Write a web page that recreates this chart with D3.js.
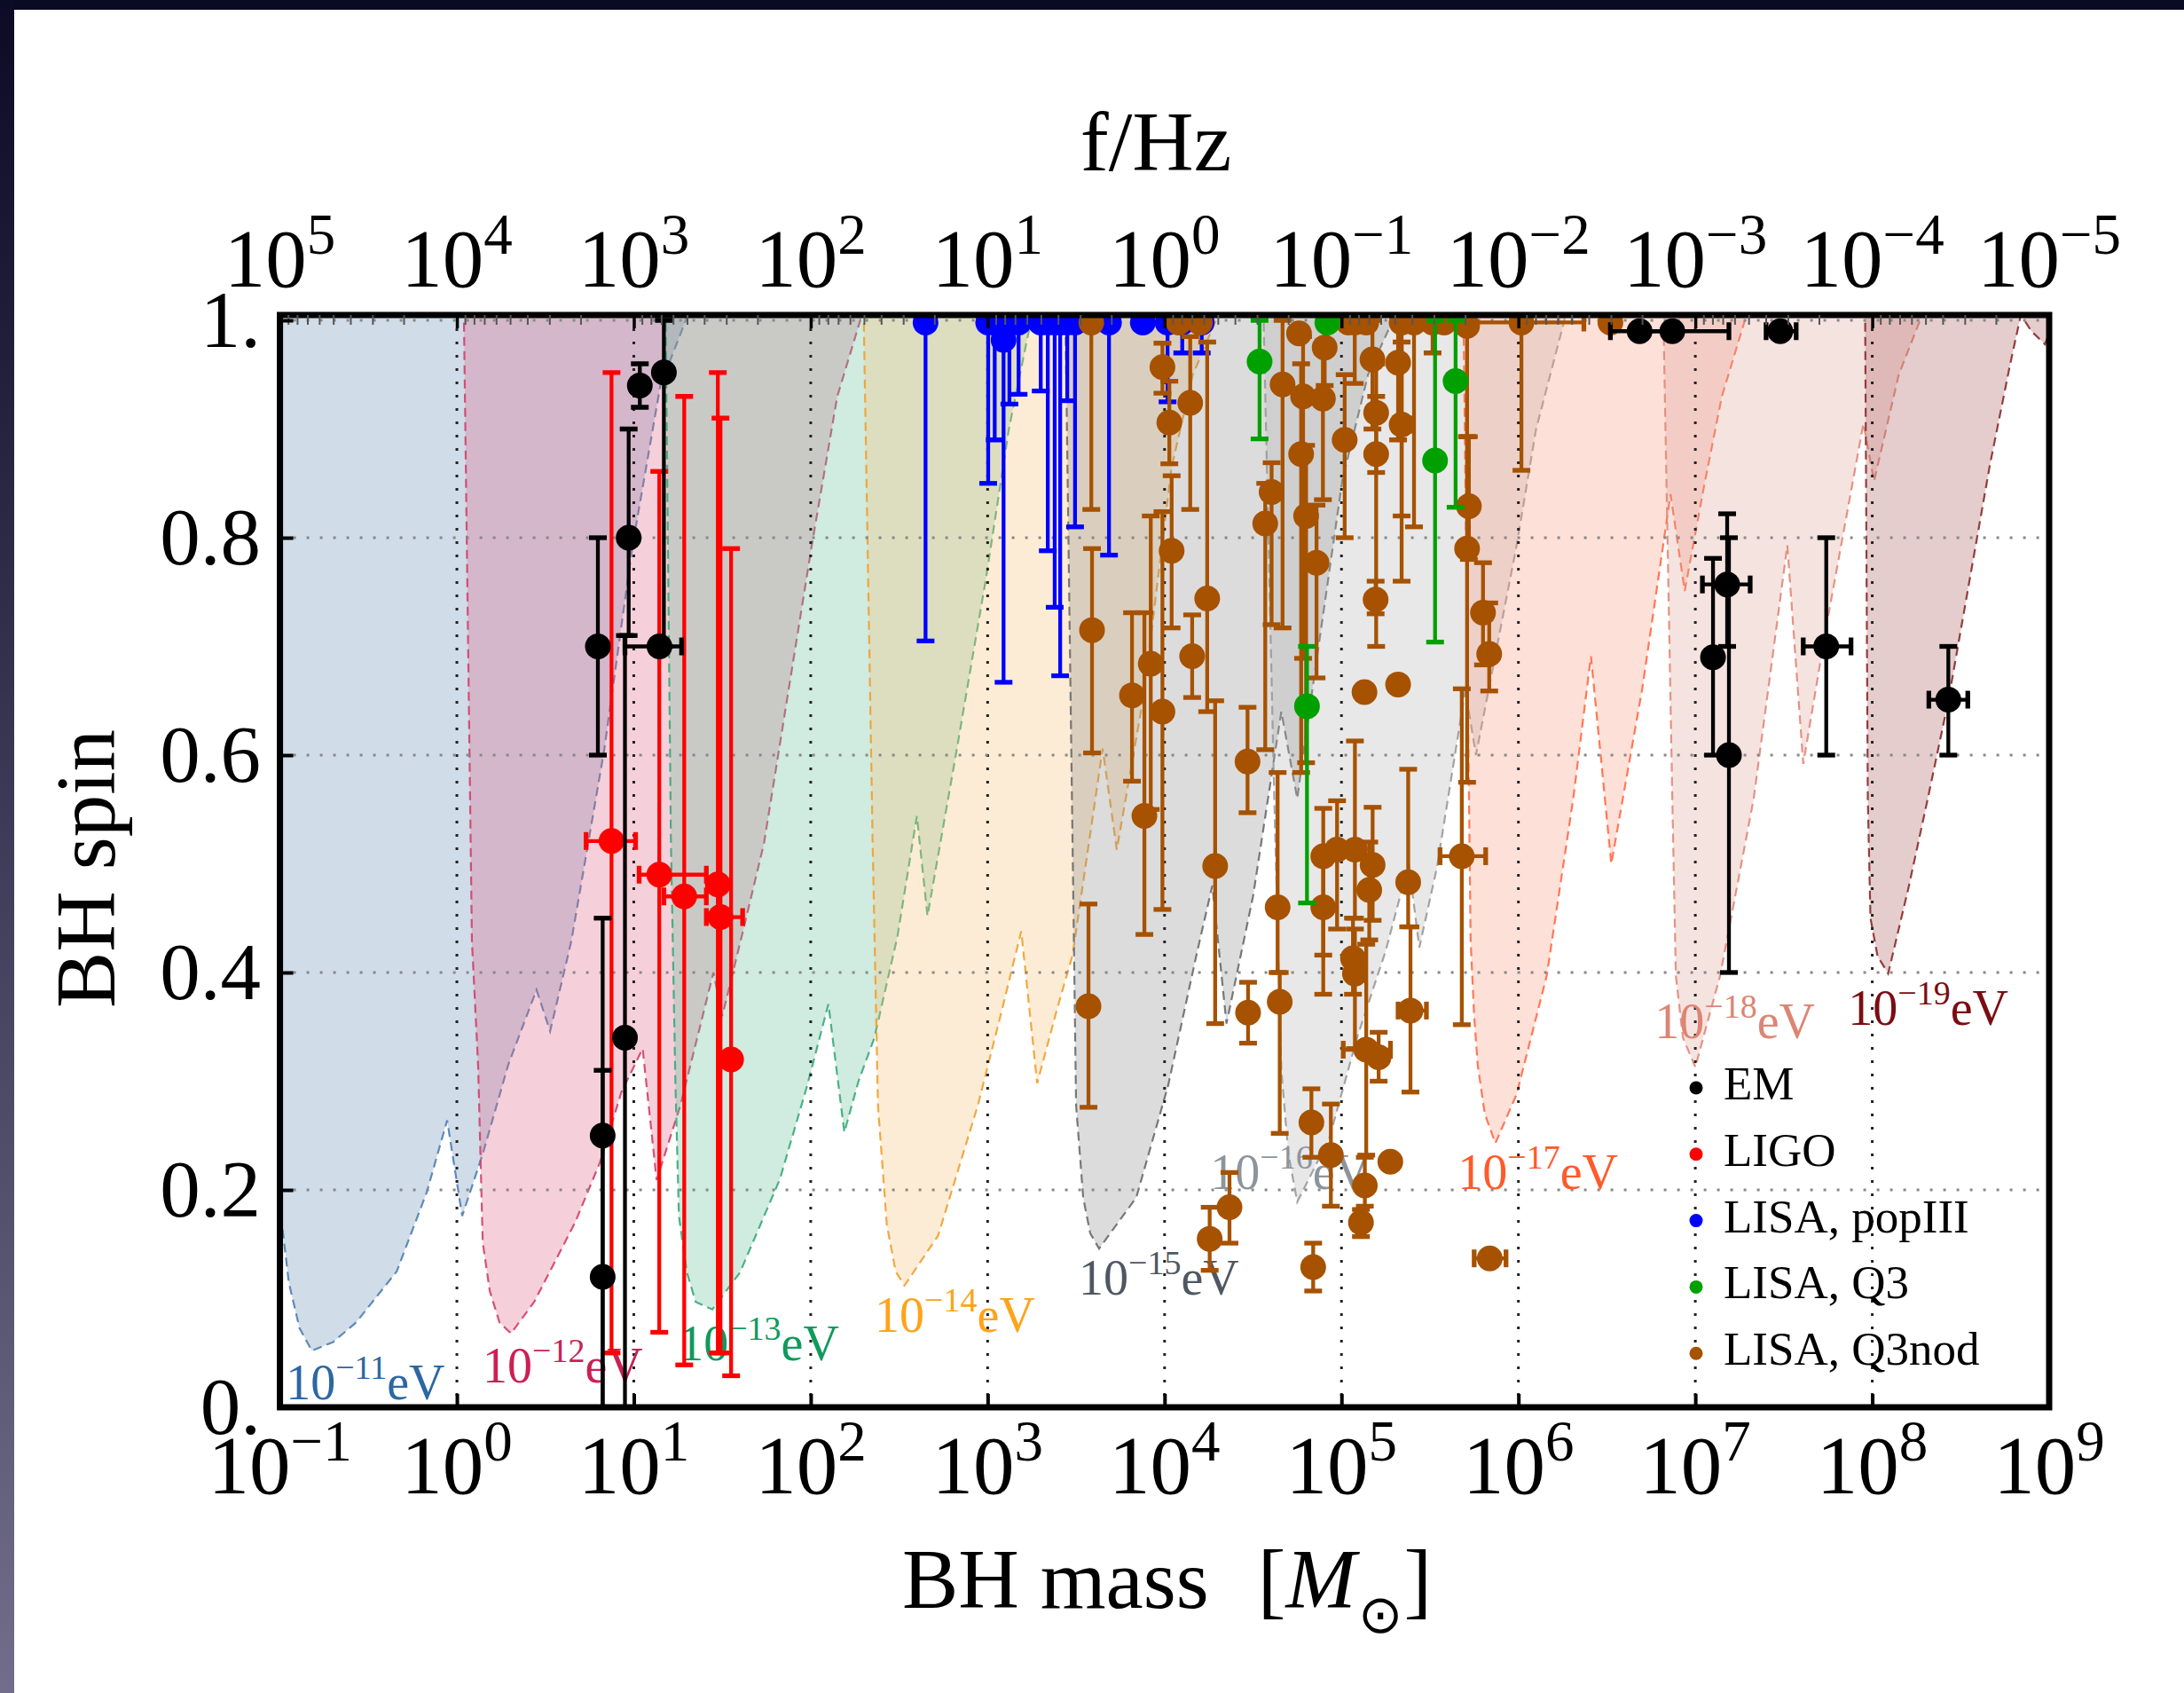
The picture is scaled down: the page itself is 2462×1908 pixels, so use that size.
<!DOCTYPE html>
<html><head><meta charset="utf-8">
<script src="https://cdn.jsdelivr.net/npm/d3@7"></script>
<style>
html,body{margin:0;padding:0;background:#fff;}
svg{display:block;}
text{font-family:"Liberation Serif","Times New Roman",serif;fill:#000;}
</style></head><body>
<svg id="chart" width="2462" height="1908"></svg>
<script>
// ---------------- DATA ----------------
const massTickExps = [-1,0,1,2,3,4,5,6,7,8,9];
const freqTickExps = [5,4,3,2,1,0,-1,-2,-3,-4,-5];
const spinTicks = [0,0.2,0.4,0.6,0.8,1];
const spinTickLabels = ["0.","0.2","0.4","0.6","0.8","1."];

const bosonExps = [-11,-12,-13,-14,-15,-16,-17,-18,-19];
const bosonFill = ["#628ab2","#de6284","#62bc98","#f8c073","#8a8a8a","#b2b2b2","#f8987d","#dea298","#a85858"];
const bosonStroke = ["#4f7fb0","#d0406a","#3aaa78","#f0a030","#6a6a6a","#9a9a9a","#ff6a45","#e08878","#8a2a2a"];
const bosonLabelColor = ["#2c67a3","#cc1f55","#109a5c","#ffa31a","#4f5862","#8c959e","#ff5a2a","#dc8575","#7b0d12"];
// label anchor: [log10 M, spin] of the label's left end / baseline
const bosonLabelAnchor = [[-0.967,0.007],[0.145,0.023],[1.254,0.043],[2.362,0.069],[3.515,0.104],[4.258,0.201],[5.657,0.201],[6.77,0.340],[7.863,0.352]];

// exclusion-region boundaries [log10 M, spin]
const regionM11 = [[-1.30,1.05],[-1.22,0.70],[-1.10,0.36],[-1.00,0.184],[-0.95,0.115],[-0.89,0.073],[-0.82,0.052],[-0.70,0.060],[-0.57,0.078],[-0.34,0.125],[-0.17,0.198],[-0.055,0.264],[0.03,0.176],[0.146,0.233],[0.29,0.315],[0.45,0.384],[0.527,0.346],[0.647,0.429],[0.833,0.605],[0.993,0.793],[1.15,0.94],[1.294,1.0],[1.32,1.05]];
const regionM12 = [[0.035,1.05],[0.040,1.0],[0.085,0.429],[0.12,0.315],[0.146,0.152],[0.186,0.107],[0.241,0.078],[0.306,0.068],[0.437,0.097],[0.668,0.170],[0.808,0.225],[0.93,0.29],[1.05,0.33],[1.129,0.209],[1.264,0.278],[1.45,0.40],[1.50,0.36],[1.62,0.44],[1.736,0.519],[2.006,0.793],[2.15,0.93],[2.28,1.0],[2.30,1.05]];
const regionM13 = [[1.17,1.05],[1.18,1.0],[1.21,0.519],[1.235,0.30],[1.255,0.176],[1.30,0.124],[1.35,0.097],[1.444,0.09],[1.60,0.124],[1.826,0.21],[1.98,0.296],[2.10,0.371],[2.19,0.253],[2.27,0.30],[2.36,0.34],[2.49,0.433],[2.60,0.544],[2.66,0.452],[2.82,0.60],[2.99,0.762],[3.12,0.90],[3.245,1.0],[3.26,1.05]];
const regionM14 = [[2.29,1.05],[2.30,1.0],[2.35,0.519],[2.38,0.278],[2.43,0.168],[2.48,0.125],[2.53,0.112],[2.72,0.158],[2.945,0.278],[3.08,0.365],[3.19,0.438],[3.28,0.298],[3.39,0.365],[3.48,0.416],[3.65,0.606],[3.73,0.513],[3.88,0.653],[4.04,0.865],[4.16,0.95],[4.29,1.0],[4.31,1.05]];
const regionM15 = [[3.43,1.05],[3.44,1.0],[3.48,0.519],[3.50,0.278],[3.54,0.193],[3.58,0.16],[3.63,0.146],[3.84,0.193],[4.02,0.296],[4.18,0.416],[4.27,0.48],[4.35,0.353],[4.50,0.47],[4.66,0.64],[4.75,0.56],[4.80,0.62],[5.005,0.853],[5.15,0.95],[5.29,1.0],[5.31,1.05]];
const regionM16 = [[4.55,1.05],[4.56,1.0],[4.62,0.56],[4.66,0.31],[4.70,0.233],[4.75,0.189],[4.93,0.247],[5.09,0.341],[5.25,0.42],[5.38,0.50],[5.44,0.423],[5.54,0.497],[5.70,0.66],[5.76,0.60],[5.99,0.793],[6.10,0.90],[6.26,1.0],[6.28,1.05]];
const regionM17 = [[5.68,1.05],[5.69,1.0],[5.73,0.429],[5.75,0.36],[5.77,0.315],[5.81,0.27],[5.87,0.243],[5.99,0.288],[6.16,0.397],[6.31,0.56],[6.41,0.691],[6.525,0.50],[6.70,0.661],[6.86,0.84],[6.94,0.751],[7.05,0.848],[7.15,0.93],[7.28,1.0],[7.30,1.05]];
const regionM18 = [[6.81,1.05],[6.82,1.0],[6.87,0.56],[6.89,0.397],[6.93,0.34],[7.0,0.313],[7.14,0.397],[7.33,0.56],[7.52,0.793],[7.61,0.592],[7.74,0.718],[7.95,0.905],[8.01,0.852],[8.15,0.95],[8.27,1.0],[8.29,1.05]];
const regionM19 = [[7.95,1.05],[7.96,1.0],[7.975,0.56],[7.99,0.45],[8.03,0.415],[8.09,0.399],[8.205,0.478],[8.314,0.56],[8.43,0.65],[8.665,0.867],[8.78,0.96],[8.84,1.005],[8.90,0.99],[8.976,0.978],[9.05,1.01],[9.1,1.05]];

// series rows: [log10 M, spin, spinLow, spinHigh, log10MLow, log10MHigh]
const emData = [
 [0.797,0.70,0.60,0.80],
 [0.971,0.80,0.71,0.90],
 [0.95,0.34,0.0,0.71],
 [1.145,0.70,null,null,0.95,1.27],
 [1.17,0.952,0.70,1.0],
 [1.034,0.94,0.92,0.96],
 [0.824,0.25,0.0,0.45],
 [0.824,0.12,0.0,0.31],
 [6.685,0.99,null,null,6.52,6.85],
 [6.87,0.99,null,null,6.70,7.19],
 [7.48,0.99,null,null,7.40,7.57],
 [7.18,0.757,0.70,0.822,7.04,7.31],
 [7.10,0.69,0.60,0.781],
 [7.19,0.60,0.40,0.80],
 [7.74,0.70,0.60,0.80,7.61,7.88],
 [8.43,0.651,0.60,0.70,8.32,8.54]
];
const ligoData = [
 [0.874,0.521,0.05,0.952,0.73,1.01],
 [1.144,0.49,0.069,0.861,1.03,1.41],
 [1.285,0.47,0.039,0.93,1.17,1.41],
 [1.475,0.481,0.05,0.952],
 [1.49,0.451,0.05,0.91,1.41,1.615],
 [1.55,0.32,0.029,0.79]
];
const lisaPop3Data = [
 [2.649,0.998,0.705,null],
 [3.003,0.998,0.85,null],
 [3.04,0.998,0.89,null],
 [3.09,0.982,0.667,null],
 [3.123,0.998,0.923,null],
 [3.175,0.998,0.932,null],
 [3.30,0.998,0.935,null],
 [3.34,0.998,0.788,null],
 [3.379,0.998,0.736,null],
 [3.41,0.998,0.673,null],
 [3.45,0.998,0.926,null],
 [3.494,0.998,0.81,null],
 [3.686,0.998,0.784,null],
 [3.877,0.998,null,null],
 [4.017,0.998,0.925,null],
 [4.10,0.998,0.97,null],
 [4.21,0.998,0.97,null]
];
const lisaQ3Data = [
 [4.537,0.962,0.891,1.0],
 [5.645,0.944,0.828,1.0],
 [5.529,0.871,0.704,1.0],
 [4.805,0.645,0.464,0.70],
 [4.92,0.998,null,null]
];
const lisaQ3nodData = [
 [3.586,0.998,0.826,null],[4.08,0.998,null,null],[4.20,0.998,null,null],[5.04,0.998,null,null],
 [5.075,0.998,0.942,null],[5.14,0.998,null,null],[5.34,0.998,0.82,null],[5.41,0.998,0.81,null],
 [5.515,0.998,0.97,null,5.45,5.56],[5.58,0.998,null,null],[5.71,0.995,0.893,null],
 [6.017,0.998,0.862,null,5.60,6.37],[6.52,0.998,null,null],
 [3.988,0.957,0.933,0.979],[4.145,0.924,0.826,0.985],[4.027,0.906,0.868,0.944],[4.04,0.788,0.717,0.857],
 [4.241,0.744,0.64,0.98],[3.59,0.715,0.602,0.79],[3.922,0.684,0.55,0.82],[3.816,0.655,0.576,0.731],
 [3.988,0.64,0.458,0.824],[4.156,0.691,0.653,0.729,4.13,4.18],[3.886,0.544,0.435,0.731],
 [4.469,0.594,0.547,0.644],[4.286,0.498,0.353,0.65],[3.57,0.369,0.276,0.463],
 [4.667,0.941,0.717,1.0],[4.76,0.988,null,null],[4.772,0.877,0.584,0.96],[4.783,0.93,0.689,0.985],
 [4.905,0.975,0.94,1.0],[4.895,0.928,0.835,0.97],[4.80,0.82,0.593,0.885],[4.859,0.777,0.671,0.83],
 [4.605,0.842,0.72,0.869],[4.569,0.813,0.605,0.85],[5.018,0.89,0.80,0.95],[5.175,0.964,0.90,1.0],
 [5.32,0.961,0.89,1.0],[5.196,0.915,0.86,0.96],[5.196,0.877,0.70,0.93],[5.34,0.904,0.76,0.98,5.30,5.40],
 [5.193,0.743,0.73,0.76],[5.13,0.658,null,null],[5.32,0.665,null,null],[5.72,0.829,0.78,0.893],
 [5.71,0.79,0.575,0.893],[5.80,0.731,0.683,0.777],[5.835,0.693,0.659,0.74],
 [4.472,0.363,0.335,0.391],[4.639,0.46,0.40,0.584],[4.651,0.373,0.252,0.40],[4.897,0.507,0.416,0.551],
 [4.897,0.46,0.38,0.50],[4.975,0.513,0.44,0.558],[5.076,0.513,0.45,0.613],[5.176,0.499,0.448,0.552],
 [5.377,0.483,0.442,0.587],[5.157,0.476,0.43,0.52],[5.065,0.413,0.38,0.45],[5.076,0.399,0.33,0.44],
 [5.14,0.329,0.232,0.426,5.01,5.277],[5.21,0.322,0.30,0.345],[5.39,0.365,0.29,0.442,5.32,5.48],
 [5.68,0.507,0.352,0.661,5.557,5.815],[4.83,0.262,0.23,0.293],[4.94,0.232,0.185,0.279],
 [5.276,0.226,null,null],[5.132,0.204,0.185,0.23],[5.11,0.17,0.157,0.182],[4.367,0.184,0.151,0.216],
 [4.255,0.155,0.126,0.184],[4.84,0.129,0.107,0.151],[5.838,0.137,null,null,5.75,5.93]
];
const legendNames = ["EM","LIGO","LISA, popIII","LISA, Q3","LISA, Q3nod"];
const seriesColors = ["#000000","#ff0000","#0000ff","#00a000","#a65200"];

// ---------------- LAYOUT ----------------
const X0 = 315.6, X1 = 2310, Y0 = 1586, Y1 = 361, FRAME_TOP = 355;
const svg = d3.select("#chart");
const x = d3.scaleLog().domain([0.1, 1e9]).range([X0, X1]);
const xf = d3.scaleLog().domain([1e5, 1e-5]).range([X0, X1]);
const y = d3.scaleLinear().domain([0, 1]).range([Y0, Y1]);
const mx = lm => x(Math.pow(10, lm));

const defs = svg.append("defs");
const grad = defs.append("linearGradient").attr("id","leftband").attr("x1",0).attr("y1",0).attr("x2",0).attr("y2",1);
grad.append("stop").attr("offset","0%").attr("stop-color","#0b0b26");
grad.append("stop").attr("offset","100%").attr("stop-color","#716d8a");
defs.append("clipPath").attr("id","plotclip").append("rect")
  .attr("x",X0).attr("y",FRAME_TOP).attr("width",X1-X0).attr("height",Y0-FRAME_TOP);

svg.append("rect").attr("width",2462).attr("height",1908).attr("fill","#fff");
svg.append("rect").attr("width",2462).attr("height",11).attr("fill","#0a0a22");
svg.append("rect").attr("width",16).attr("height",1908).attr("fill","url(#leftband)");

// regions
const regions = [regionM11,regionM12,regionM13,regionM14,regionM15,regionM16,regionM17,regionM18,regionM19];
const line = d3.line().x(d => mx(d[0])).y(d => y(d[1]));
const gReg = svg.append("g").attr("clip-path","url(#plotclip)");
regions.forEach((pts,i) => {
  gReg.append("path").attr("d", line(pts) + "Z")
    .attr("fill", bosonFill[i]).attr("fill-opacity", 0.3).attr("stroke","none");
  gReg.append("path").attr("d", line(pts))
    .attr("fill","none").attr("stroke", bosonStroke[i]).attr("stroke-width",2.2)
    .attr("stroke-opacity",0.9).attr("stroke-dasharray","10,6");
});

// grid
const gGrid = svg.append("g").attr("clip-path","url(#plotclip)");
massTickExps.slice(1,-1).forEach(e => {
  gGrid.append("line").attr("x1",x(10**e)).attr("x2",x(10**e)).attr("y1",FRAME_TOP).attr("y2",Y0)
    .attr("stroke","#222").attr("stroke-width",3).attr("stroke-dasharray","3,12");
});
spinTicks.slice(1).forEach(v => {
  gGrid.append("line").attr("x1",X0).attr("x2",X1).attr("y1",y(v)).attr("y2",y(v))
    .attr("stroke","#888").attr("stroke-width",3).attr("stroke-dasharray","3,12");
});

// boson mass labels
bosonExps.forEach((e,i) => {
  const a = bosonLabelAnchor[i];
  const t = svg.append("text").attr("x", mx(a[0])).attr("y", y(a[1]))
    .attr("font-size",56).style("fill",bosonLabelColor[i]);
  t.append("tspan").text("10");
  t.append("tspan").attr("font-size",38).attr("dy",-23).text("\u2212" + (-e));
  t.append("tspan").attr("dy",23).text("eV");
});

// data series
function drawSeries(data, color) {
  const g = svg.append("g").attr("clip-path","url(#plotclip)");
  const sw = 4.3, cap = 10;
  data.forEach(d => {
    const cx = mx(d[0]), cy = y(d[1]);
    const lo = d[2], hi = d[3], mlo = d[4], mhi = d[5];
    if (lo != null || hi != null) {
      const yt = y(hi != null ? hi : d[1]), yb = y(lo != null ? lo : d[1]);
      g.append("line").attr("x1",cx).attr("x2",cx).attr("y1",yt).attr("y2",yb).attr("stroke",color).attr("stroke-width",sw);
      if (hi != null) g.append("line").attr("x1",cx-cap).attr("x2",cx+cap).attr("y1",yt).attr("y2",yt).attr("stroke",color).attr("stroke-width",sw+1);
      if (lo != null) g.append("line").attr("x1",cx-cap).attr("x2",cx+cap).attr("y1",yb).attr("y2",yb).attr("stroke",color).attr("stroke-width",sw+1);
    }
    if (mlo != null && mhi != null) {
      const xl = mx(mlo), xr = mx(mhi);
      g.append("line").attr("x1",xl).attr("x2",xr).attr("y1",cy).attr("y2",cy).attr("stroke",color).attr("stroke-width",sw);
      [xl,xr].forEach(xx => g.append("line").attr("x1",xx).attr("x2",xx).attr("y1",cy-cap).attr("y2",cy+cap).attr("stroke",color).attr("stroke-width",sw+1));
    }
  });
  g.selectAll("circle.pt").data(data).enter().append("circle").attr("class","pt")
    .attr("cx", d => mx(d[0])).attr("cy", d => y(d[1])).attr("r",14.5).attr("fill",color);
}
drawSeries(lisaPop3Data, seriesColors[2]);
drawSeries(lisaQ3nodData, seriesColors[4]);
drawSeries(lisaQ3Data, seriesColors[3]);
drawSeries(ligoData, seriesColors[1]);
drawSeries(emData, seriesColors[0]);

// legend
legendNames.forEach((name,i) => {
  const cy = 1226 + i*74.8;
  svg.append("circle").attr("cx",1912).attr("cy",cy).attr("r",7.5).attr("fill",seriesColors[i]);
  svg.append("text").attr("x",1943).attr("y",cy+13).attr("font-size",53).text(name);
});

// frame
svg.append("rect").attr("x",X0).attr("y",FRAME_TOP).attr("width",X1-X0).attr("height",Y0-FRAME_TOP)
  .attr("fill","none").attr("stroke","#000").attr("stroke-width",7);

// axes ticks
const gb = svg.append("g").attr("transform",`translate(0,${Y0})`)
  .call(d3.axisBottom(x).tickValues(massTickExps.map(e => 10**e)).tickSize(-15).tickFormat(""));
const fAll = xf.ticks(20);
const fMajor = fAll.filter(v => Math.abs(Math.log10(v) - Math.round(Math.log10(v))) < 1e-9);
const fMinor = fAll.filter(v => !fMajor.includes(v));
const gtMin = svg.append("g").attr("transform",`translate(0,${FRAME_TOP})`)
  .call(d3.axisTop(xf).tickValues(fMinor).tickSize(-11).tickFormat(""));
const gtMaj = svg.append("g").attr("transform",`translate(0,${FRAME_TOP})`)
  .call(d3.axisTop(xf).tickValues(fMajor).tickSize(-15).tickFormat(""));
const gl = svg.append("g").attr("transform",`translate(${X0},0)`)
  .call(d3.axisLeft(y).tickValues(spinTicks).tickSize(-15).tickFormat(""));
[gb,gtMin,gtMaj,gl].forEach(g => { g.select(".domain").remove(); });
gb.selectAll(".tick line").attr("stroke","#000").attr("stroke-width",4);
gl.selectAll(".tick line").attr("stroke","#000").attr("stroke-width",4);
gtMaj.selectAll(".tick line").attr("stroke","#000").attr("stroke-width",3.5);
gtMin.selectAll(".tick line").attr("stroke","#555").attr("stroke-width",2);

// tick labels
function powLabel(xpos, ybase, exp) {
  const t = svg.append("text").attr("x",xpos).attr("y",ybase).attr("text-anchor","middle").attr("font-size",93);
  t.append("tspan").text("10");
  t.append("tspan").attr("font-size",65).attr("dy",-37).text(exp < 0 ? "\u2212" + (-exp) : String(exp));
}
massTickExps.forEach(e => powLabel(x(10**e), 1683, e));
freqTickExps.forEach(e => powLabel(xf(10**e), 323, e));
spinTicks.forEach((v,i) => {
  svg.append("text").attr("x",294).attr("y",y(v)+30).attr("text-anchor","end").attr("font-size",91).text(spinTickLabels[i]);
});

// axis titles
svg.append("text").attr("x",1303).attr("y",192).attr("text-anchor","middle").attr("font-size",96).text("f/Hz");
svg.append("text").attr("transform","translate(129,979) rotate(-90)").attr("text-anchor","middle").attr("font-size",95).text("BH spin");
const xt = svg.append("text").attr("x",1017).attr("y",1812).attr("font-size",95);
xt.append("tspan").text("BH mass");
xt.append("tspan").attr("dx",55).text("[");
xt.append("tspan").attr("font-style","italic").text("M");
xt.append("tspan").attr("font-size",60).attr("dy",28).attr("dx",2).text("\u2299");
xt.append("tspan").attr("dy",-28).attr("dx",2).text("]");
</script></body></html>
